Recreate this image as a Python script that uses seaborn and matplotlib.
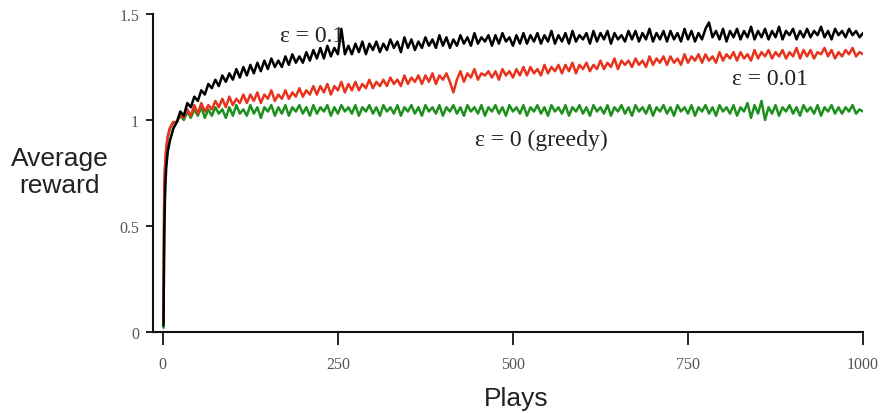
import numpy as np
import pandas as pd
import matplotlib
matplotlib.use('Agg')
import matplotlib.pyplot as plt
import seaborn as sns

sns.set_style('ticks')
plt.rcParams['font.family'] = ['Liberation Serif', 'DejaVu Serif']

# plays: dense at the very start, then every 5 plays
early_plays = [1, 2, 3, 4, 5, 7, 10, 15]
plays = early_plays + list(range(20, 1001, 5))

# epsilon = 0.1 (black)
eps_01 = [0.03, 0.45, 0.62, 0.72, 0.78, 0.85, 0.90, 0.96,
          0.99, 1.04, 1.02, 1.08, 1.06, 1.11, 1.09, 1.14, 1.12, 1.17,
          1.15, 1.19, 1.16, 1.21, 1.18, 1.22, 1.19, 1.24, 1.20, 1.25,
          1.21, 1.26, 1.22, 1.27, 1.23, 1.28, 1.24, 1.29, 1.25, 1.28,
          1.25, 1.30, 1.26, 1.31, 1.27, 1.30, 1.27, 1.32, 1.28, 1.33,
          1.29, 1.34, 1.29, 1.35, 1.30, 1.34, 1.31, 1.43, 1.31, 1.35,
          1.31, 1.36, 1.32, 1.37, 1.31, 1.36, 1.33, 1.37, 1.32, 1.36,
          1.33, 1.38, 1.34, 1.37, 1.32, 1.39, 1.34, 1.38, 1.33, 1.37,
          1.34, 1.39, 1.35, 1.38, 1.34, 1.40, 1.35, 1.39, 1.34, 1.38,
          1.35, 1.40, 1.36, 1.39, 1.35, 1.41, 1.36, 1.39, 1.37, 1.40,
          1.35, 1.40, 1.36, 1.41, 1.37, 1.39, 1.35, 1.40, 1.36, 1.41,
          1.36, 1.40, 1.37, 1.41, 1.36, 1.40, 1.37, 1.42, 1.36, 1.40,
          1.37, 1.41, 1.36, 1.42, 1.37, 1.40, 1.38, 1.41, 1.36, 1.42,
          1.37, 1.41, 1.38, 1.42, 1.36, 1.41, 1.38, 1.40, 1.37, 1.42,
          1.38, 1.42, 1.37, 1.41, 1.38, 1.43, 1.37, 1.41, 1.38, 1.42,
          1.37, 1.42, 1.38, 1.41, 1.37, 1.43, 1.38, 1.42, 1.37, 1.41,
          1.38, 1.43, 1.46, 1.39, 1.42, 1.38, 1.43, 1.37, 1.42, 1.39,
          1.43, 1.38, 1.42, 1.39, 1.44, 1.38, 1.42, 1.39, 1.43, 1.38,
          1.42, 1.39, 1.44, 1.38, 1.42, 1.40, 1.43, 1.38, 1.42, 1.39,
          1.43, 1.39, 1.42, 1.40, 1.44, 1.39, 1.42, 1.38, 1.43, 1.40,
          1.42, 1.39, 1.43, 1.40, 1.42, 1.39, 1.41]

# epsilon = 0.01 (red)
eps_001 = [0.05, 0.70, 0.78, 0.83, 0.87, 0.92, 0.96, 0.99,
           0.99, 1.03, 1.01, 1.05, 1.02, 1.07, 1.03, 1.08, 1.04, 1.07,
           1.05, 1.09, 1.06, 1.10, 1.06, 1.11, 1.07, 1.10, 1.08, 1.12,
           1.08, 1.12, 1.09, 1.13, 1.08, 1.12, 1.10, 1.14, 1.09, 1.12,
           1.10, 1.14, 1.10, 1.13, 1.11, 1.15, 1.11, 1.14, 1.12, 1.16,
           1.12, 1.16, 1.13, 1.17, 1.12, 1.16, 1.14, 1.18, 1.13, 1.17,
           1.14, 1.18, 1.14, 1.17, 1.15, 1.19, 1.15, 1.18, 1.16, 1.19,
           1.16, 1.20, 1.17, 1.19, 1.16, 1.21, 1.17, 1.20, 1.18, 1.21,
           1.17, 1.21, 1.18, 1.22, 1.17, 1.21, 1.19, 1.22, 1.18, 1.13,
           1.19, 1.23, 1.18, 1.22, 1.20, 1.24, 1.19, 1.22, 1.21, 1.23,
           1.20, 1.23, 1.19, 1.24, 1.21, 1.23, 1.20, 1.24, 1.21, 1.25,
           1.21, 1.25, 1.22, 1.24, 1.21, 1.26, 1.22, 1.25, 1.23, 1.26,
           1.22, 1.26, 1.23, 1.27, 1.22, 1.26, 1.24, 1.27, 1.23, 1.26,
           1.24, 1.28, 1.24, 1.27, 1.25, 1.29, 1.24, 1.28, 1.26, 1.28,
           1.25, 1.29, 1.26, 1.28, 1.25, 1.30, 1.26, 1.29, 1.27, 1.30,
           1.26, 1.30, 1.27, 1.29, 1.26, 1.31, 1.27, 1.30, 1.28, 1.31,
           1.27, 1.31, 1.28, 1.30, 1.27, 1.32, 1.28, 1.31, 1.29, 1.32,
           1.28, 1.32, 1.29, 1.31, 1.28, 1.33, 1.29, 1.32, 1.30, 1.33,
           1.29, 1.32, 1.30, 1.33, 1.29, 1.32, 1.30, 1.34, 1.29, 1.33,
           1.30, 1.33, 1.29, 1.32, 1.31, 1.34, 1.30, 1.33, 1.29, 1.32,
           1.30, 1.33, 1.31, 1.34, 1.30, 1.32, 1.31]

# epsilon = 0 greedy (green)
eps_0 = [0.02, 0.60, 0.75, 0.82, 0.87, 0.92, 0.96, 0.99,
         0.99, 1.02, 1.00, 1.04, 1.01, 1.05, 1.02, 1.06, 1.01, 1.05,
         1.02, 1.06, 1.03, 1.05, 1.01, 1.06, 1.02, 1.07, 1.03, 1.05,
         1.02, 1.07, 1.03, 1.06, 1.01, 1.06, 1.04, 1.07, 1.02, 1.06,
         1.03, 1.07, 1.02, 1.06, 1.04, 1.07, 1.03, 1.06, 1.02, 1.07,
         1.03, 1.06, 1.04, 1.07, 1.02, 1.06, 1.03, 1.07, 1.04, 1.06,
         1.03, 1.07, 1.02, 1.06, 1.04, 1.07, 1.03, 1.06, 1.02, 1.07,
         1.04, 1.06, 1.03, 1.07, 1.02, 1.06, 1.04, 1.07, 1.03, 1.06,
         1.02, 1.07, 1.04, 1.06, 1.03, 1.07, 1.02, 1.06, 1.04, 1.07,
         1.03, 1.06, 1.02, 1.07, 1.04, 1.06, 1.03, 1.07, 1.02, 1.06,
         1.04, 1.07, 1.03, 1.06, 1.02, 1.07, 1.04, 1.06, 1.03, 1.07,
         1.02, 1.06, 1.04, 1.07, 1.03, 1.06, 1.02, 1.07, 1.04, 1.06,
         1.03, 1.07, 1.02, 1.06, 1.04, 1.07, 1.03, 1.06, 1.02, 1.07,
         1.04, 1.06, 1.03, 1.07, 1.02, 1.06, 1.04, 1.07, 1.03, 1.06,
         1.02, 1.07, 1.04, 1.06, 1.03, 1.07, 1.02, 1.06, 1.04, 1.07,
         1.03, 1.06, 1.02, 1.07, 1.04, 1.06, 1.03, 1.07, 1.02, 1.06,
         1.04, 1.07, 1.03, 1.06, 1.02, 1.07, 1.04, 1.06, 1.03, 1.07,
         1.02, 1.06, 1.04, 1.08, 1.01, 1.07, 1.03, 1.09, 1.00, 1.06,
         1.03, 1.07, 1.02, 1.06, 1.04, 1.07, 1.03, 1.06, 1.02, 1.07,
         1.04, 1.06, 1.03, 1.07, 1.02, 1.06, 1.04, 1.07, 1.03, 1.06,
         1.03, 1.06, 1.04, 1.07, 1.03, 1.05, 1.04]

series_names = ['greedy', 'eps_001', 'eps_01']
palette = {'greedy': '#1c8f1c', 'eps_001': '#e8321c', 'eps_01': '#000000'}

df = pd.concat([
    pd.DataFrame({'play': plays, 'reward': eps_0, 'series': 'greedy'}),
    pd.DataFrame({'play': plays, 'reward': eps_001, 'series': 'eps_001'}),
    pd.DataFrame({'play': plays, 'reward': eps_01, 'series': 'eps_01'}),
])

fig = plt.figure(figsize=(8.86, 4.14), dpi=100)
ax = fig.add_axes([0.1727, 0.1957, 0.8014, 0.7681])

sns.lineplot(data=df, x='play', y='reward', hue='series', hue_order=series_names,
             palette=palette, estimator=None, sort=False, legend=False,
             linewidth=1.8, ax=ax)

ax.set_xlim(-14, 1000)
ax.set_ylim(0, 1.5)
ax.set_xticks([0, 250, 500, 750, 1000])
ax.set_xticklabels(['0', '250', '500', '750', '1000'])
ax.set_yticks([0, 0.5, 1, 1.5])
ax.set_yticklabels(['0', '0.5', '1', '1.5'])
sns.despine(ax=ax)
for s in ['left', 'bottom']:
    ax.spines[s].set_linewidth(1.5)
    ax.spines[s].set_color('#111111')
ax.tick_params(axis='x', length=9.5, width=1.3, pad=8, labelsize=11.5, colors='#111111', labelcolor='#555555')
ax.tick_params(axis='y', length=5, width=1.3, pad=5, labelsize=11.5, colors='#111111', labelcolor='#555555')

ax.set_xlabel('Plays', family='Liberation Sans', fontsize=19, color='#222222', va='center')
ax.xaxis.set_label_coords(0.511, -0.209)
ax.set_ylabel('Average\nreward', family='Liberation Sans', fontsize=19, color='#222222',
              rotation=0, ha='center', va='center', linespacing=1.15)
ax.yaxis.set_label_coords(-0.131, 0.506)

ax.text(213, 1.373, 'ε = 0.1', ha='center', va='baseline', fontsize=17, color='#222222')
ax.text(867, 1.17, 'ε = 0.01', ha='center', va='baseline', fontsize=17, color='#222222')
ax.text(540, 0.882, 'ε = 0 (greedy)', ha='center', va='baseline', fontsize=17, color='#222222')

fig.savefig('out.png', dpi=100)
